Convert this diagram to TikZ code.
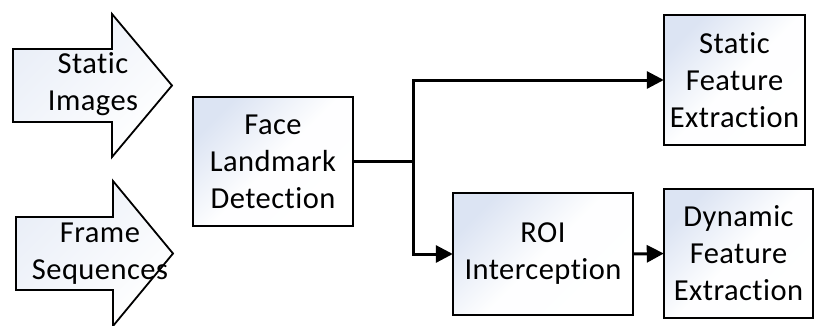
\documentclass[tikz,border=0pt]{standalone}
\usepackage{fontspec}
\setmainfont{Carlito}[Ligatures=NoCommon, LetterSpace=1.5]
\usetikzlibrary{arrows.meta}
\definecolor{shadeblue}{HTML}{DCE4F3}
\tikzset{
  x=1pt, y=-1pt,
  boxtext/.style={font=\fontsize{30.5}{37}\selectfont, align=center, inner sep=0pt},
  procbox/.style={draw=black, line width=1.8pt, top color=shadeblue, bottom color=white,
    middle color=white!96!shadeblue, shading angle=45},
  conn/.style={line width=3pt, line cap=butt},
  tip/.style={-{Triangle[length=17pt,width=17pt]}},
  bigarrow/.style={draw=black, line width=1.8pt, line join=miter, top color=shadeblue!60!white,
    bottom color=white, shading angle=45}
}
\begin{document}
\begin{tikzpicture}
\useasboundingbox (0,0) rectangle (815,325);

% input block arrows
\path[bigarrow] (13,49) -- (112,49) -- (112,14) -- (172,85.5) -- (112,157) -- (112,122) -- (13,122) -- cycle;
\path[bigarrow] (16,217) -- (113,217) -- (113,181) -- (173,253.5) -- (113,326) -- (113,290) -- (16,290) -- cycle;
\node[boxtext] (imgs) at (93,84) {Static\\Images};
\node[boxtext] (seqs) at (100,254) {Frame\\Sequences};

% processing boxes
\path[procbox] (193,97) rectangle (353,226);
\node[boxtext, minimum width=160pt, minimum height=129pt] (face) at (273,161.5) {Face\\Landmark\\Detection};
\path[procbox] (664,15) rectangle (805,145);
\node[boxtext, minimum width=141pt, minimum height=130pt] (sfe) at (734.5,80) {Static\\Feature\\Extraction};
\path[procbox] (453,193) rectangle (633,315);
\node[boxtext, minimum width=180pt, minimum height=122pt] (roi) at (543,254) {ROI\\Interception};
\path[procbox] (664,189) rectangle (813,318);
\node[boxtext, minimum width=149pt, minimum height=129pt] (dfe) at (738.5,253.5) {Dynamic\\Feature\\Extraction};

% connectors
\coordinate (split) at (413,161.5);
\draw[conn] (face.east) -- (split);
\draw[conn, tip] (split) |- (sfe.west);
\draw[conn, tip] (split) |- (roi.west);
\draw[conn, tip] (roi.east) -- (dfe.west);
\end{tikzpicture}
\end{document}
